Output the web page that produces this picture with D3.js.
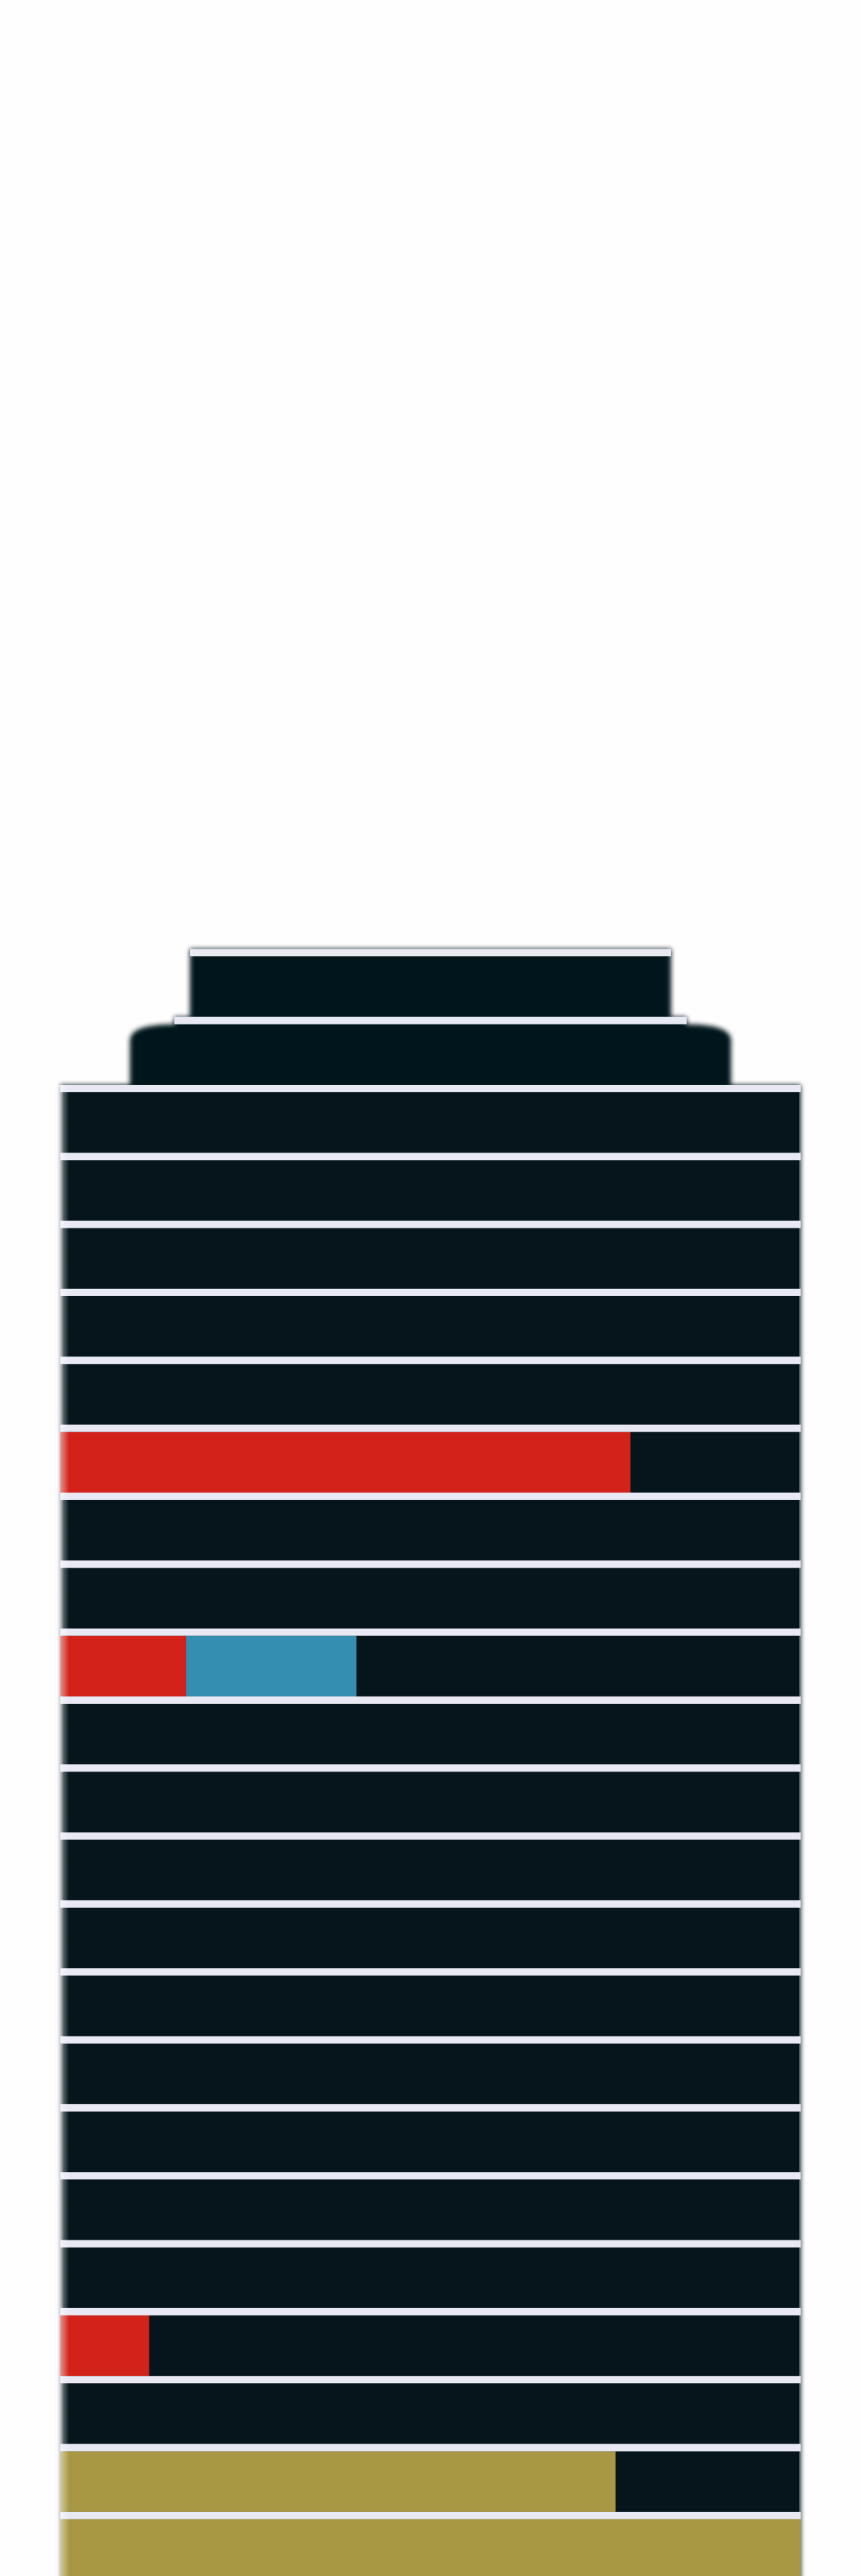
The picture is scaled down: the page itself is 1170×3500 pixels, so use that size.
<!DOCTYPE html>
<html>
<head>
<meta charset="utf-8">
<script src="https://cdn.jsdelivr.net/npm/d3@7"></script>
<style>
  html, body { margin: 0; padding: 0; background: #fefefe; }
  svg { display: block; }
</style>
</head>
<body>
<svg id="chart" width="1170" height="3500"></svg>
<script>
// ---- data (floors listed from the top of the building) ----
const floors = ["F24","F23","F22","F21","F20","F19","F18","F17","F16","F15","F14","F13",
                "F12","F11","F10","F9","F8","F7","F6","F5","F4","F3","F2","F1"];
const seriesKeys = ["red", "blue", "olive"];
const redValues   = [0,0,0,0,0,0,0,77,0,0,17,0,0,0,0,0,0,0,0,0,12,0,0,0];
const blueValues  = [0,0,0,0,0,0,0,0,0,0,23,0,0,0,0,0,0,0,0,0,0,0,0,0];
const oliveValues = [0,0,0,0,0,0,0,0,0,0,0,0,0,0,0,0,0,0,0,0,0,0,75,100];
const xTicks = [0, 25, 50, 75, 100];

const colors = { red: "#d22219", blue: "#338eb2", olive: "#a99843" };
const DARK = "#06151b";
const LINE = "#e8e9f3";

const rows = floors.map((f, i) => ({ floor: f, red: redValues[i], blue: blueValues[i], olive: oliveValues[i] }));

const svg = d3.select("#chart");
const x = d3.scaleLinear().domain([xTicks[0], xTicks[xTicks.length - 1]]).range([82, 1088]);
const y = d3.scaleBand().domain(floors).range([1289.3, 1289.3 + floors.length * 92.33]).paddingInner(0).paddingOuter(0);
const lineH = 10;

const defs = svg.append("defs");
defs.append("filter").attr("id", "soft").attr("x", "-10%").attr("y", "-10%").attr("width", "120%").attr("height", "120%")
  .append("feGaussianBlur").attr("stdDeviation", 3);
const lg = defs.append("linearGradient").attr("id", "edgeL").attr("x1", "0").attr("x2", "1").attr("y1", "0").attr("y2", "0");
lg.append("stop").attr("offset", "0").attr("stop-color", "#ffffff").attr("stop-opacity", 0.75);
lg.append("stop").attr("offset", "1").attr("stop-color", "#ffffff").attr("stop-opacity", 0);

// building geometry derived from scales
const capTop = y(floors[0]), lvl2Top = y(floors[1]), towerTop = y(floors[2]);
const bottom = y(floors[floors.length - 1]) + y.step();
const capL = x(17.5), capR = x(82.5);
const l2L = x(9.4), l2R = x(90.6);
const shL = x(15.4), shR = x(84.6);
const x0 = x(0), x1 = x(100);

const path = d3.path();
path.moveTo(x0, bottom);
path.lineTo(x0, towerTop);
path.lineTo(l2L, towerTop);
path.lineTo(l2L, lvl2Top + lineH + 22);
path.quadraticCurveTo(l2L, lvl2Top + lineH, shL, lvl2Top + lineH);
path.lineTo(shL, lvl2Top);
path.lineTo(capL, lvl2Top);
path.lineTo(capL, capTop);
path.lineTo(capR, capTop);
path.lineTo(capR, lvl2Top);
path.lineTo(shR, lvl2Top);
path.lineTo(shR, lvl2Top + lineH);
path.quadraticCurveTo(l2R, lvl2Top + lineH, l2R, lvl2Top + lineH + 22);
path.lineTo(l2R, towerTop);
path.lineTo(x1, towerTop);
path.lineTo(x1, bottom);
path.closePath();

svg.append("path").attr("d", path.toString()).attr("fill", DARK).attr("filter", "url(#soft)");
// crisp interior of the main tower
svg.append("rect").attr("x", x0 + 4).attr("y", towerTop).attr("width", x1 - x0 - 6).attr("height", bottom - towerTop).attr("fill", DARK);

// stacked bars
const stack = d3.stack().keys(seriesKeys)(rows);
svg.append("g").selectAll("g").data(stack).join("g")
  .attr("fill", d => colors[d.key])
  .selectAll("rect").data(d => d.filter(s => s[1] - s[0] > 0)).join("rect")
  .attr("x", d => x(d[0]))
  .attr("y", d => y(d.data.floor) + lineH)
  .attr("width", d => x(d[1]) - x(d[0]))
  .attr("height", y.step() - lineH);

// floor separator lines
const lineExtent = (f, i) => i === 0 ? [capL, capR] : i === 1 ? [shL, shR] : [x0, x1];
svg.append("g").selectAll("rect").data(floors).join("rect")
  .attr("x", (f, i) => lineExtent(f, i)[0])
  .attr("y", f => y(f))
  .attr("width", (f, i) => lineExtent(f, i)[1] - lineExtent(f, i)[0])
  .attr("height", lineH)
  .attr("fill", LINE);

// soft light on the left edge of the tower
svg.append("rect").attr("x", x0 - 6).attr("y", towerTop).attr("width", 18).attr("height", bottom - towerTop).attr("fill", "url(#edgeL)");
</script>
</body>
</html>
